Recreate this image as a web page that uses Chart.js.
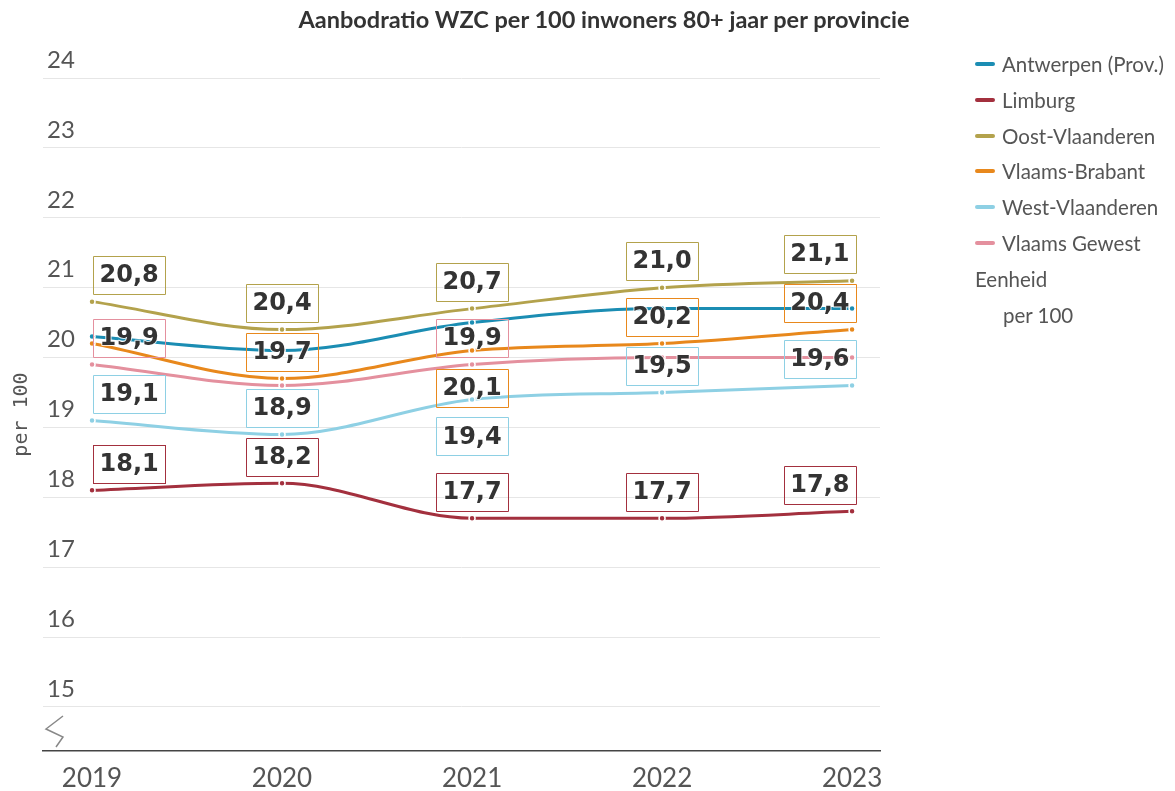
<!DOCTYPE html>
<html>
<head>
<meta charset="utf-8">
<script src="https://cdn.jsdelivr.net/npm/chart.js@4/dist/chart.umd.min.js"></script>
<style>
  html, body { margin: 0; padding: 0; background: #fff; }
  #wrap { position: relative; width: 1175px; height: 791px; overflow: hidden; }
  #c { position: absolute; left: 0; top: 0; }
  #title { position: absolute; left: 0; width: 1208px; top: 5px; text-align: center;
    font: bold 23.5px Lato, "Open Sans", sans-serif; color: #333; }
  #legend { position: absolute; left: 975px; top: 51px; font: 20.5px Lato, "Open Sans", sans-serif; color: #555; }
  .li { height: 35.8px; line-height: 26px; white-space: nowrap; display: flex; align-items: flex-start; }
  .sw { display: inline-block; width: 20px; height: 4px; border-radius: 2px; margin-top: 11px; margin-right: 7px; }
  .unit { height: 35.8px; line-height: 26px; }
</style>
</head>
<body>
<div id="wrap">
  <canvas id="c" width="1175" height="791"></canvas>
  <div id="title">Aanbodratio WZC per 100 inwoners 80+ jaar per provincie</div>
  <div id="legend"></div>
</div>
<script>
// ---- Data ----
const years = [2019, 2020, 2021, 2022, 2023];
const seriesNames = ["Antwerpen (Prov.)", "Limburg", "Oost-Vlaanderen", "Vlaams-Brabant", "West-Vlaanderen", "Vlaams Gewest"];
const antwerpen      = [20.3, 20.1, 20.5, 20.7, 20.7];
const limburg        = [18.1, 18.2, 17.7, 17.7, 17.8];
const oostVlaanderen = [20.8, 20.4, 20.7, 21.0, 21.1];
const vlaamsBrabant  = [20.2, 19.7, 20.1, 20.2, 20.4];
const westVlaanderen = [19.1, 18.9, 19.4, 19.5, 19.6];
const vlaamsGewest   = [19.9, 19.6, 19.9, 20.0, 20.0];
const yTicks = [15, 16, 17, 18, 19, 20, 21, 22, 23, 24];
const unitLabel = "Eenheid";
const unitValue = "per 100";

const seriesValues = [antwerpen, limburg, oostVlaanderen, vlaamsBrabant, westVlaanderen, vlaamsGewest];
const colors = ["#1b8db3", "#a3303e", "#b3a24c", "#e8881c", "#8ed0e4", "#e4909e"];
// label placement per series per year: 'a' above, 'b' below, null hidden
const labelPlacement = [
  [null, null, null, null, null],
  ['a', 'a', 'a', 'a', 'a'],
  ['a', 'a', 'a', 'a', 'a'],
  [null, 'a', 'b', 'a', 'a'],
  ['a', 'a', 'b', 'a', 'a'],
  ['a', null, 'a', null, null]
];

// ---- Legend (HTML) ----
const leg = document.getElementById('legend');
seriesNames.forEach((n, i) => {
  const d = document.createElement('div'); d.className = 'li';
  const s = document.createElement('span'); s.className = 'sw'; s.style.background = colors[i];
  const t = document.createElement('span'); t.textContent = n;
  d.appendChild(s); d.appendChild(t); leg.appendChild(d);
});
const u1 = document.createElement('div'); u1.className = 'unit'; u1.textContent = unitLabel; leg.appendChild(u1);
const u2 = document.createElement('div'); u2.className = 'unit'; u2.style.paddingLeft = '28px'; u2.textContent = unitValue; leg.appendChild(u2);

// ---- Plugins ----
const dataLabels = {
  id: 'dataLabels',
  afterDatasetsDraw(chart) {
    const ctx = chart.ctx;
    ctx.save();
    ctx.font = 'bold 24px "DejaVu Sans", sans-serif';
    ctx.textAlign = 'center';
    ctx.textBaseline = 'middle';
    chart.data.datasets.forEach((ds, i) => {
      const meta = chart.getDatasetMeta(i);
      meta.data.forEach((pt, j) => {
        const pos = ds.labelPos[j];
        if (!pos) return;
        const txt = ds.data[j].y.toFixed(1).replace('.', ',');
        const w = ctx.measureText(txt).width + 13;
        const h = 38;
        let left;
        if (j === 0) left = pt.x + 1;
        else if (j === meta.data.length - 1) left = pt.x + 4 - w;
        else left = pt.x - w / 2;
        const top = pos === 'a' ? pt.y - 7.5 - h : pt.y + 18;
        ctx.strokeStyle = ds.borderColor;
        ctx.lineWidth = 1;
        ctx.strokeRect(Math.round(left) + 0.5, Math.round(top) + 0.5, Math.round(w), h);
        ctx.lineWidth = 2;
        ctx.strokeStyle = 'rgba(255,255,255,0.8)';
        ctx.lineJoin = 'round';
        ctx.strokeText(txt, left + w / 2, top + h / 2 + 1);
        ctx.fillStyle = '#333';
        ctx.fillText(txt, left + w / 2, top + h / 2 + 1);
      });
    });
    ctx.restore();
  }
};

const axisBreak = {
  id: 'axisBreak',
  afterDraw(chart) {
    const ctx = chart.ctx;
    const a = chart.chartArea;
    const x0 = a.left;
    const yb = a.bottom;
    ctx.save();
    ctx.strokeStyle = '#888';
    ctx.lineWidth = 1.5;
    ctx.beginPath();
    ctx.moveTo(x0 + 20, yb - 35);
    ctx.lineTo(x0 + 3, yb - 22);
    ctx.lineTo(x0 + 20, yb - 14);
    ctx.lineTo(x0 + 13, yb - 4);
    ctx.stroke();
    ctx.restore();
  }
};

// ---- Chart ----
const datasets = seriesNames.map((n, i) => ({
  label: n,
  data: years.map((y, k) => ({ x: y, y: seriesValues[i][k] })),
  borderColor: colors[i],
  backgroundColor: colors[i],
  borderWidth: 3,
  cubicInterpolationMode: 'monotone',
  pointRadius: 3,
  pointBackgroundColor: colors[i],
  pointBorderColor: '#fff',
  pointBorderWidth: 1.5,
  labelPos: labelPlacement[i]
}));

new Chart(document.getElementById('c'), {
  type: 'line',
  data: { datasets },
  options: {
    responsive: false,
    animation: false,
    events: [],
    layout: { padding: { top: 78, right: 295, bottom: 0, left: 0 } },
    plugins: { legend: { display: false }, tooltip: { enabled: false }, title: { display: false } },
    scales: {
      x: {
        type: 'linear',
        min: 2018.742,
        max: 2023.147,
        afterBuildTicks: s => { s.ticks = years.map(v => ({ value: v })); },
        afterFit: s => { s.height = 40; },
        ticks: {
          callback: v => String(v),
          font: { family: 'Lato, "Open Sans", sans-serif', size: 26 },
          color: '#555',
          padding: 12,
          autoSkip: false,
          maxRotation: 0
        },
        grid: { display: false, drawTicks: false },
        border: { display: true, color: '#444', width: 1.5 }
      },
      y: {
        min: 14.37,
        max: 24,
        afterBuildTicks: s => { s.ticks = yTicks.map(v => ({ value: v })); },
        afterFit: s => { s.width = 43; },
        ticks: {
          mirror: true,
          padding: 4,
          labelOffset: -18,
          callback: v => String(v),
          font: { family: 'Lato, "Open Sans", sans-serif', size: 24 },
          color: '#555'
        },
        grid: { color: '#e6e6e6', lineWidth: 1, drawTicks: false },
        border: { display: false },
        title: {
          display: true,
          text: unitValue,
          font: { family: '"DejaVu Sans Mono", monospace', size: 20 },
          color: '#555',
          padding: { top: 10, bottom: 0 }
        }
      }
    }
  },
  plugins: [dataLabels, axisBreak]
});
</script>
</body>
</html>
